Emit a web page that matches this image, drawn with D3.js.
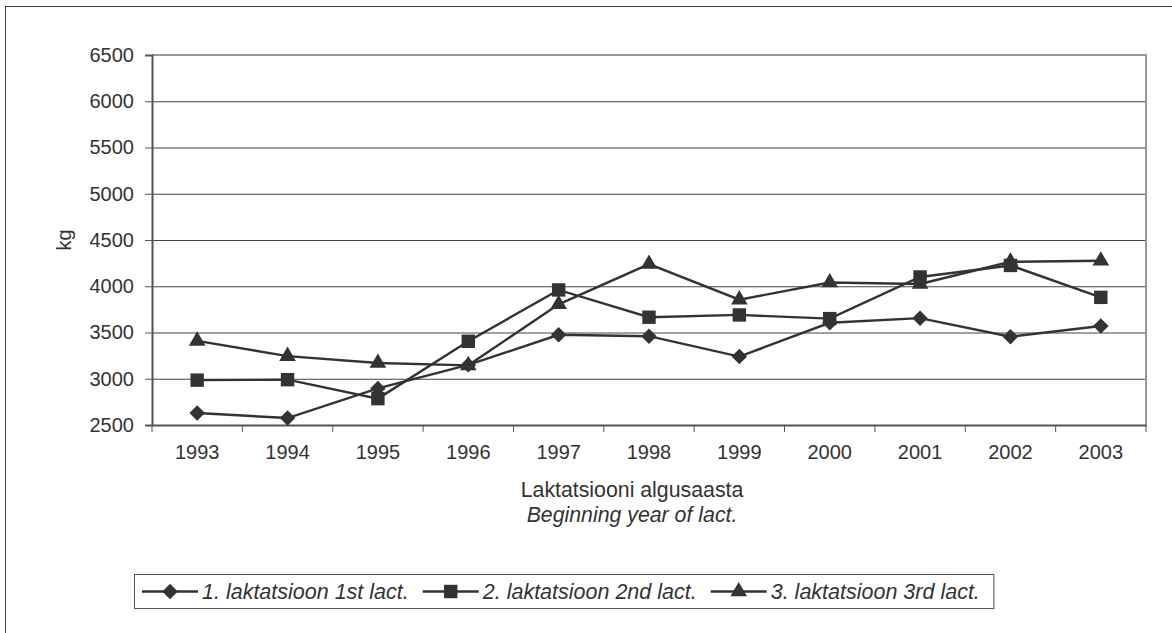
<!DOCTYPE html>
<html>
<head>
<meta charset="utf-8">
<title>Laktatsioon</title>
<style>
	body { margin: 0; background: #fff; }
	svg text { font-family: "Liberation Sans", Arial, sans-serif; fill: #333; }
</style>
</head>
<body>
<svg id="chart" width="1172" height="633"></svg>
<script src="https://d3js.org/d3.v7.min.js"></script>
<script>
// data
const years = ['1993', '1994', '1995', '1996', '1997', '1998', '1999', '2000', '2001', '2002', '2003'];
const lact1 = [2630, 2575, 2895, 3150, 3475, 3460, 3240, 3605, 3655, 3455, 3570];
const lact2 = [2985, 2990, 2785, 3405, 3960, 3665, 3690, 3650, 4100, 4225, 3880];
const lact3 = [3410, 3245, 3170, 3145, 3805, 4240, 3855, 4040, 4025, 4265, 4275];
const seriesNames = ['1. laktatsioon 1st lact.', '2. laktatsioon 2nd lact.', '3. laktatsioon 3rd lact.'];
const yTicks = [2500, 3000, 3500, 4000, 4500, 5000, 5500, 6000, 6500];

// diamond = square turned 45 degrees
const series = [
	{ name: seriesNames[0], values: lact1, symbol: d3.symbolSquare, size: 120, rotate: 45 },
	{ name: seriesNames[1], values: lact2, symbol: d3.symbolSquare, size: 180, rotate: 0 },
	{ name: seriesNames[2], values: lact3, symbol: d3.symbolTriangle, size: 120, rotate: 0 }
];

const plotLeft = 152, plotRight = 1146, plotTop = 55, plotBottom = 425;
const ink = '#333';
const fs = 20;

const svg = d3.select('#chart');

// outer frame (goes off the picture at right and bottom)
svg.append('rect')
	.attr('x', 5.5).attr('y', 6.5)
	.attr('width', 1200).attr('height', 700)
	.attr('fill', 'none').attr('stroke', '#444').attr('stroke-width', 1);

const x = d3.scaleBand().domain(years).range([plotLeft, plotRight]);
const y = d3.scaleLinear().domain([2500, 6500]).range([plotBottom, plotTop]);

// grid lines
svg.append('g')
	.selectAll('line')
	.data(yTicks.slice(1, -1))
	.join('line')
	.attr('x1', plotLeft).attr('x2', plotRight)
	.attr('y1', d => y(d) + 0.5).attr('y2', d => y(d) + 0.5)
	.attr('stroke', '#444').attr('stroke-width', 1);

// top and right edges of plot area
svg.append('path')
	.attr('d', `M${plotLeft},${plotTop}H${plotRight}V${plotBottom}`)
	.attr('fill', 'none').attr('stroke', '#9e9694').attr('stroke-width', 2);

// y axis
const yAxis = svg.append('g')
	.attr('transform', `translate(${plotLeft},0)`)
	.call(d3.axisLeft(y).tickValues(yTicks).tickFormat(d3.format('d')).tickSize(7).tickPadding(11));
yAxis.select('.domain').attr('stroke', '#5c5252').attr('stroke-width', 2);
yAxis.selectAll('.tick line').attr('stroke', '#5c5252');
yAxis.selectAll('.tick text').attr('font-size', fs).style('fill', ink);

// x axis, ticks between categories
const xAxis = svg.append('g')
	.attr('transform', `translate(0,${plotBottom})`)
	.call(d3.axisBottom(x).tickSize(0).tickPadding(20));
xAxis.select('.domain').attr('stroke', '#5c5252').attr('stroke-width', 2);
xAxis.selectAll('.tick text').attr('font-size', fs).style('fill', ink);
xAxis.selectAll('.sep')
	.data(years.concat(['end']))
	.join('line')
	.attr('class', 'sep')
	.attr('x1', (d, i) => plotLeft + i * x.step()).attr('x2', (d, i) => plotLeft + i * x.step())
	.attr('y1', 0).attr('y2', 7)
	.attr('stroke', '#5c5252');

// axis titles
svg.append('text')
	.attr('transform', `translate(71,${(plotTop + plotBottom) / 2}) rotate(-90)`)
	.attr('text-anchor', 'middle')
	.attr('font-size', fs)
	.text('kg');
svg.append('text')
	.attr('x', 632).attr('y', 497)
	.attr('text-anchor', 'middle').attr('font-size', 21.3)
	.text('Laktatsiooni algusaasta');
svg.append('text')
	.attr('x', 632).attr('y', 522)
	.attr('text-anchor', 'middle').attr('font-size', 21.3)
	.attr('font-style', 'italic')
	.text('Beginning year of lact.');

// lines and markers
const line = d3.line()
	.x((d, i) => x(years[i]) + x.bandwidth() / 2)
	.y(d => y(d));

series.forEach(s => {
	svg.append('path')
		.datum(s.values)
		.attr('d', line)
		.attr('fill', 'none').attr('stroke', ink).attr('stroke-width', 2.4);
	svg.append('g')
		.selectAll('path')
		.data(s.values)
		.join('path')
		.attr('transform', (d, i) => `translate(${x(years[i]) + x.bandwidth() / 2},${y(d)}) rotate(${s.rotate})`)
		.attr('d', d3.symbol().type(s.symbol).size(s.size))
		.attr('fill', ink);
});

// legend
const legendY = 591.5;
const legend = svg.append('g');
const legendBox = legend.append('rect')
	.attr('x', 134.5).attr('y', 574.5)
	.attr('height', 34)
	.attr('fill', '#fff').attr('stroke', '#555').attr('stroke-width', 1);

series.forEach(s => {
	const g = legend.append('g').attr('class', 'item');
	g.append('line').attr('x1', 0).attr('x2', 56).attr('y1', 0).attr('y2', 0)
		.attr('stroke', ink).attr('stroke-width', 2.4);
	g.append('path').attr('transform', `translate(28,0) rotate(${s.rotate})`)
		.attr('d', d3.symbol().type(s.symbol).size(s.size))
		.attr('fill', ink);
	g.append('text').attr('x', 60).attr('y', 7.5)
		.attr('font-size', 21.5).attr('font-style', 'italic')
		.text(s.name);
});

// space the legend items by text width, box wraps them
let cx = 142;
legend.selectAll('g.item').each(function () {
	d3.select(this).attr('transform', `translate(${cx},${legendY})`);
	cx += this.getBBox().width + 14;
});
legendBox.attr('width', cx - 134.5);
</script>
</body>
</html>
